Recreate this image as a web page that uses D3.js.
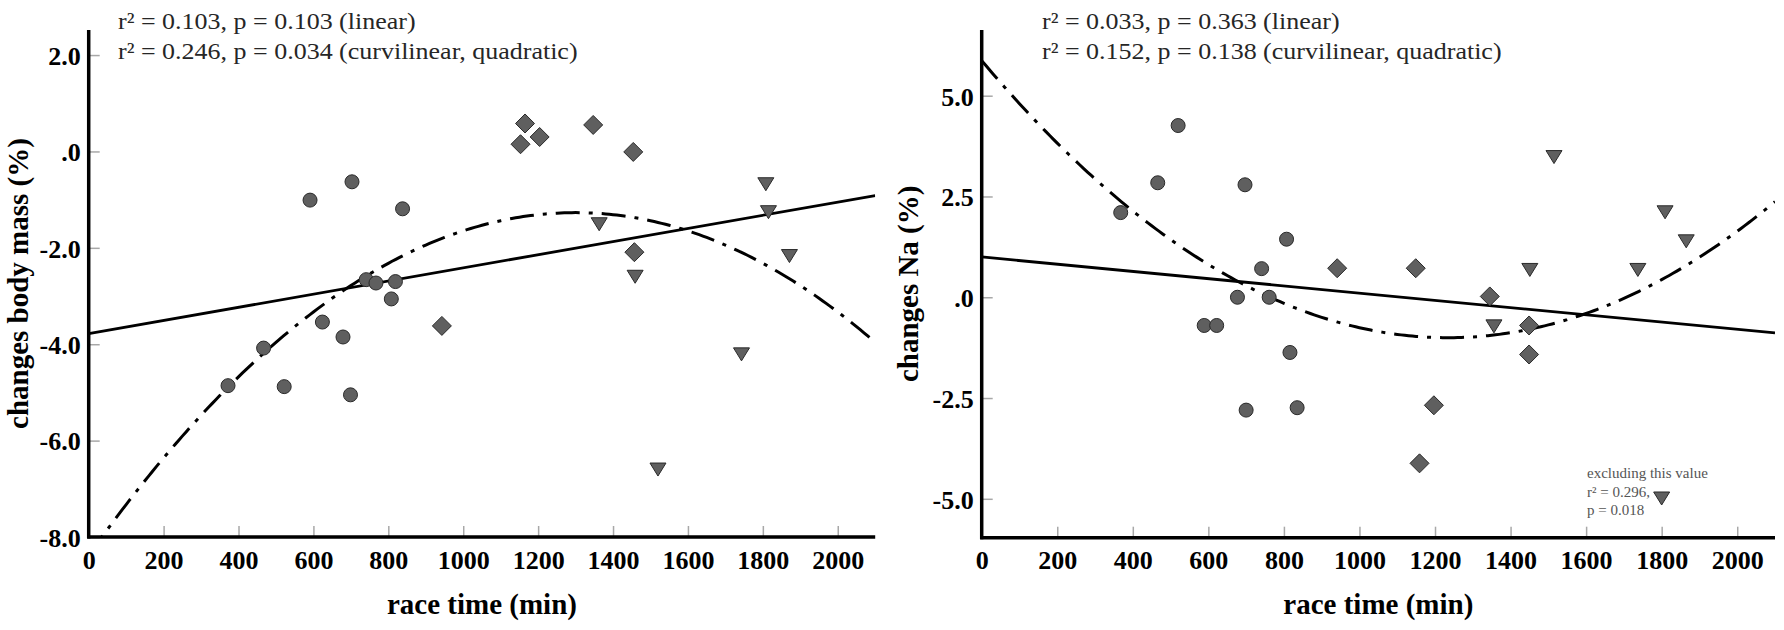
<!DOCTYPE html>
<html>
<head>
<meta charset="utf-8">
<script src="https://cdn.jsdelivr.net/npm/d3@7"></script>
<style>
  html, body { margin: 0; padding: 0; background: #fff; }
  svg { display: block; font-family: "Liberation Serif", "Times New Roman", serif; }
</style>
</head>
<body>
<svg id="chart" width="1784" height="630"></svg>
<script>
// ---------- Data ----------
const xTicks = [0, 200, 400, 600, 800, 1000, 1200, 1400, 1600, 1800, 2000];
const bmTicks = [2, 0, -2, -4, -6, -8];
const bmTickLabels = ["2.0", ".0", "-2.0", "-4.0", "-6.0", "-8.0"];
const naTicks = [5, 2.5, 0, -2.5, -5];
const naTickLabels = ["5.0", "2.5", ".0", "-2.5", "-5.0"];

// Left panel: changes body mass (%)
const bmCircleX = [372, 467, 522, 591, 624, 679, 703, 699, 741, 767, 808, 819, 838];
const bmCircleY = [-4.86, -4.08, -4.88, -1.01, -3.54, -3.85, -0.63, -5.05, -2.66, -2.73, -3.06, -2.70, -1.19];
const bmDiamondX = [943, 1153, 1165, 1204, 1347, 1454, 1457];
const bmDiamondY = [-3.62, 0.15, 0.58, 0.30, 0.55, -0.01, -2.09];
const bmTriangleX = [1363, 1459, 1520, 1743, 1808, 1815, 1871];
const bmTriangleY = [-1.50, -2.59, -6.59, -4.20, -0.67, -1.25, -2.16];
const bmLinear = [-3.78, 0.001364];                // intercept, slope
const bmQuad = [-8.378, 0.010936, -0.000004206];   // b0, b1, b2

// Right panel: changes Na (%)
const naCircleX = [368, 466, 520, 589, 622, 677, 697, 700, 741, 761, 807, 816, 835];
const naCircleY = [2.10, 2.84, 4.26, -0.70, -0.70, 0.0, 2.79, -2.80, 0.71, 0.0, 1.44, -1.37, -2.74];
const naDiamondX = [941, 1149, 1159, 1197, 1345, 1449, 1449];
const naDiamondY = [0.72, 0.72, -4.12, -2.68, 0.02, -0.70, -1.42];
const naTriangleX = [1356, 1451, 1515, 1737, 1809, 1800, 1865];
const naTriangleY = [-0.71, 0.69, 3.49, 0.69, 2.12, -4.98, 1.40];
const naLinear = [1.0, -0.000897];
const naQuad = [5.8706, -0.011134, 0.0000045086];

const bmNotes = ["r\u00B2 = 0.103, p = 0.103 (linear)", "r\u00B2 = 0.246, p = 0.034 (curvilinear, quadratic)"];
const naNotes = ["r\u00B2 = 0.033, p = 0.363 (linear)", "r\u00B2 = 0.152, p = 0.138 (curvilinear, quadratic)"];
const naExcludeNote = ["excluding this value", "r\u00B2 = 0.296,", "p = 0.018"];

// ---------- Drawing ----------
const svg = d3.select("#chart");
svg.append("rect").attr("width", 1784).attr("height", 630).attr("fill", "#fff");

const FILL = "#5f5f5f", STROKE = "#2a2a2a";

function panel(opt) {
  const x = d3.scaleLinear().domain([0, 2100]).range([opt.left, opt.right]);
  const y = d3.scaleLinear().domain(opt.yDomain).range([opt.bottom, opt.top]);
  const g = svg.append("g");
  const clipId = "clip" + opt.id;
  svg.append("clipPath").attr("id", clipId).append("rect")
    .attr("x", opt.left).attr("y", opt.top)
    .attr("width", opt.right - opt.left).attr("height", opt.bottom - opt.top);

  // x ticks (inside, grey)
  const xAxis = d3.axisBottom(x).tickValues(xTicks).tickSizeInner(-11).tickSizeOuter(0).tickPadding(24)
    .tickFormat(d3.format("d"));
  const gx = g.append("g").attr("transform", `translate(0,${opt.bottom})`).call(xAxis);
  gx.select(".domain").remove();
  gx.selectAll(".tick line").attr("stroke", "#a8a8a8").attr("stroke-width", 1.5);
  gx.selectAll(".tick text").attr("font-size", 26).attr("font-weight", "bold").attr("fill", "#000")
    .attr("font-family", "Liberation Serif, serif").attr("dy", "0.3em");

  // y ticks
  const yAxis = d3.axisLeft(y).tickValues(opt.yTicks).tickSizeInner(-11).tickSizeOuter(0).tickPadding(8)
    .tickFormat((d, i) => opt.yLabels[i]);
  const gy = g.append("g").attr("transform", `translate(${opt.left},0)`).call(yAxis);
  gy.select(".domain").remove();
  gy.selectAll(".tick line").attr("stroke", "#a8a8a8").attr("stroke-width", 1.5);
  gy.selectAll(".tick text").attr("font-size", 26).attr("font-weight", "bold").attr("fill", "#000")
    .attr("font-family", "Liberation Serif, serif").attr("dy", "0.36em");

  // axis lines
  g.append("line").attr("x1", opt.left).attr("x2", opt.left).attr("y1", opt.top).attr("y2", opt.bottom + 1.5)
    .attr("stroke", "#000").attr("stroke-width", 3.5);
  g.append("line").attr("x1", opt.left - 1.5).attr("x2", opt.right).attr("y1", opt.bottom).attr("y2", opt.bottom)
    .attr("stroke", "#000").attr("stroke-width", 3.5);

  // fit lines
  const xs = d3.range(0, 2101, 10);
  const lin = opt.linear, quad = opt.quad;
  const line = d3.line().x(d => x(d[0])).y(d => y(d[1]));
  const fitG = g.append("g").attr("clip-path", `url(#${clipId})`);
  fitG.append("path").datum([[0, lin[0]], [2100, lin[0] + lin[1] * 2100]])
    .attr("d", line).attr("fill", "none").attr("stroke", "#000").attr("stroke-width", 2.8);
  fitG.append("path").datum(xs.map(v => [v, quad[0] + quad[1] * v + quad[2] * v * v]))
    .attr("d", line).attr("fill", "none").attr("stroke", "#000").attr("stroke-width", 3)
    .attr("stroke-dasharray", "24,9,4,9");

  // markers
  const mg = g.append("g");
  const circles = opt.cx.map((v, i) => [v, opt.cy[i]]);
  const diamonds = opt.dx.map((v, i) => [v, opt.dy[i]]);
  const tris = opt.tx.map((v, i) => [v, opt.ty[i]]);
  mg.selectAll("circle.c").data(circles).join("circle")
    .attr("cx", d => x(d[0])).attr("cy", d => y(d[1])).attr("r", 7)
    .attr("fill", FILL).attr("stroke", STROKE).attr("stroke-width", 1);
  mg.selectAll("path.d").data(diamonds).join("path")
    .attr("d", d => { const px = x(d[0]), py = y(d[1]), s = 9.5;
      return `M${px},${py - s}L${px + s},${py}L${px},${py + s}L${px - s},${py}Z`; })
    .attr("fill", FILL).attr("stroke", STROKE).attr("stroke-width", 1);
  mg.selectAll("path.t").data(tris).join("path")
    .attr("d", d => { const px = x(d[0]), py = y(d[1]);
      return `M${px - 8},${py - 6}L${px + 8},${py - 6}L${px},${py + 7}Z`; })
    .attr("fill", FILL).attr("stroke", STROKE).attr("stroke-width", 1);

  // annotations
  opt.notes.forEach((t, i) => {
    g.append("text").attr("transform", `translate(${opt.noteX},${29 + i * 30}) scale(1.13,1)`).text(t)
      .attr("font-size", 23).attr("fill", "#262626");
  });

  // axis titles
  g.append("text").attr("x", (opt.left + opt.right) / 2).attr("y", 614).attr("text-anchor", "middle")
    .attr("font-size", 29).attr("font-weight", "bold").text("race time (min)");
  g.append("text").attr("transform", `translate(${opt.titleX},${(opt.top + opt.bottom) / 2}) rotate(-90)`)
    .attr("text-anchor", "middle").attr("font-size", 29).attr("font-weight", "bold").text(opt.yTitle);

  return { x, y, g };
}

panel({
  id: "L", left: 88.7, right: 875.2, top: 30, bottom: 537, yDomain: [-8, 2.52],
  yTicks: bmTicks, yLabels: bmTickLabels,
  cx: bmCircleX, cy: bmCircleY, dx: bmDiamondX, dy: bmDiamondY, tx: bmTriangleX, ty: bmTriangleY,
  linear: bmLinear, quad: bmQuad, notes: bmNotes, noteX: 118, titleX: 28,
  yTitle: "changes body mass (%)"
});

const R = panel({
  id: "R", left: 981.7, right: 1775, top: 30, bottom: 537.7, yDomain: [-5.965, 6.63],
  yTicks: naTicks, yLabels: naTickLabels,
  cx: naCircleX, cy: naCircleY, dx: naDiamondX, dy: naDiamondY, tx: naTriangleX, ty: naTriangleY,
  linear: naLinear, quad: naQuad, notes: naNotes, noteX: 1042, titleX: 918,
  yTitle: "changes Na (%)"
});

naExcludeNote.forEach((t, i) => {
  R.g.append("text").attr("x", 1587).attr("y", 478 + i * 18.5).text(t)
    .attr("font-size", 15).attr("fill", "#555");
});
</script>
</body>
</html>
